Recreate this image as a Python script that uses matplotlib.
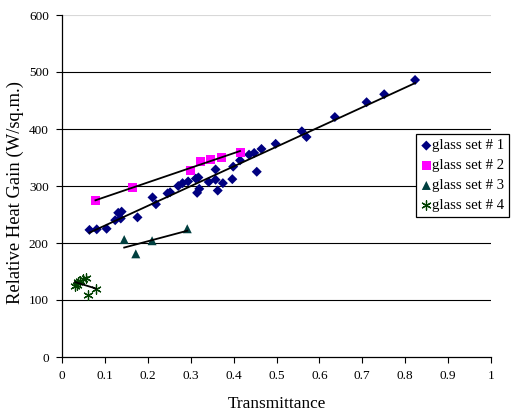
import matplotlib
matplotlib.use("Agg")
import matplotlib.pyplot as plt
import numpy as np

# glass set data (transmittance, relative heat gain)
set1_x = [0.064, 0.081, 0.104, 0.124, 0.131, 0.137, 0.139, 0.176, 0.211, 0.219,
          0.246, 0.252, 0.271, 0.281, 0.294, 0.312, 0.315, 0.318, 0.320, 0.342,
          0.358, 0.358, 0.363, 0.375, 0.397, 0.399, 0.415, 0.436, 0.448, 0.454,
          0.465, 0.498, 0.559, 0.570, 0.636, 0.710, 0.751, 0.823]
set1_y = [223, 224, 225, 240, 253, 243, 255, 245, 280, 268,
          287, 289, 300, 305, 308, 313, 288, 315, 295, 307,
          329, 311, 292, 305, 312, 334, 345, 355, 358, 325,
          365, 374, 396, 386, 421, 447, 461, 486]

set2_x = [0.078, 0.164, 0.300, 0.322, 0.347, 0.372, 0.415]
set2_y = [274, 298, 327, 343, 346, 350, 359]

set3_x = [0.145, 0.172, 0.210, 0.292]
set3_y = [206, 181, 204, 225]

set4_x = [0.030, 0.034, 0.038, 0.042, 0.048, 0.055, 0.061, 0.079]
set4_y = [125, 126, 131, 133, 136, 139, 109, 119]

labels = ["glass set # 1", "glass set # 2", "glass set # 3", "glass set # 4"]

serif = "Liberation Serif"

fig = plt.figure(figsize=(5.12, 4.12), dpi=100)
ax = fig.add_axes([62 / 512, 55 / 412, 429 / 512, 342 / 412])

series = [
    (set1_x, set1_y, dict(marker="D", color="#000080", s=26, edgecolors="none")),
    (set2_x, set2_y, dict(marker="s", color="#FF00FF", s=42, edgecolors="none")),
    (set3_x, set3_y, dict(marker="^", color="#003F3F", s=42, edgecolors="none")),
    (set4_x, set4_y, dict(marker=(6, 2, 0), color="#004000", s=45, linewidths=0.9)),
]

for (xs, ys, style), lab in zip(series, labels):
    ax.scatter(xs, ys, label=lab, zorder=3, **style)
    # linear trend line over the data range
    k, b = np.polyfit(xs, ys, 1)
    xl = np.array([min(xs), max(xs)])
    ax.plot(xl, k * xl + b, color="black", lw=1.3, zorder=4)

ax.set_xlim(0, 1)
ax.set_ylim(0, 600)
ax.set_xticks(np.arange(0, 1.01, 0.1))
ax.set_xticklabels(["0", "0.1", "0.2", "0.3", "0.4", "0.5", "0.6", "0.7", "0.8", "0.9", "1"])
ax.set_yticks(np.arange(0, 601, 100))

for y in range(100, 600, 100):
    ax.axhline(y, color="black", lw=0.8, zorder=1)
ax.axhline(600, color="#d8d8d8", lw=0.8, zorder=1)

for side in ["top", "right"]:
    ax.spines[side].set_visible(False)
ax.spines["left"].set_linewidth(0.9)
ax.spines["bottom"].set_linewidth(0.9)
ax.tick_params(direction="out", length=4.5, width=0.8, labelsize=9.5, pad=5)
for t in ax.get_xticklabels() + ax.get_yticklabels():
    t.set_fontfamily(serif)

ax.set_xlabel("Transmittance", fontfamily=serif, fontsize=12.4, labelpad=10)
ax.set_ylabel("Relative Heat Gain (W/sq.m.)", fontfamily=serif, fontsize=13.4)
ax.yaxis.set_label_coords(-38 / 429, 0.48)

leg = ax.legend(loc="upper left", bbox_to_anchor=(416 / 512, 1 - 134 / 412),
                bbox_transform=fig.transFigure, prop={"family": serif, "size": 10.6},
                frameon=True, fancybox=False, edgecolor="black", framealpha=1,
                handletextpad=0.05, handlelength=0.7, borderpad=0.35, labelspacing=0.45,
                borderaxespad=0, scatterpoints=1)
leg.get_frame().set_linewidth(0.9)

fig.savefig("out.png", dpi=100)
